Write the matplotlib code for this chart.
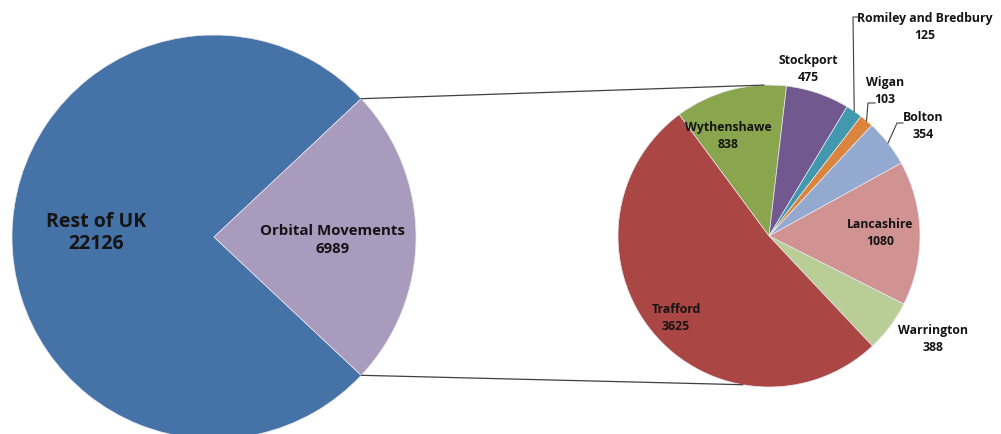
import numpy as np
import matplotlib
matplotlib.use("Agg")
import matplotlib.pyplot as plt

# main pie
main_labels = ["Rest of UK", "Orbital Movements"]
main_values = [22126, 6989]
main_colors = ["#4572A7", "#A99BBD"]

# breakdown of orbital movements (clockwise from Wythenshawe)
sub_labels = ["Wythenshawe", "Stockport", "Romiley and Bredbury", "Wigan",
              "Bolton", "Lancashire", "Warrington", "Trafford"]
sub_values = [838, 475, 125, 103, 354, 1080, 388, 3625]
sub_colors = ["#89A54E", "#71588F", "#4198AF", "#DB843D",
              "#93A9CF", "#D19392", "#B9CD96", "#AA4643"]

# layout (pixel units, y up)
W, H = 1001, 434
c1, r1 = (214, 197), 202
c2, r2 = (769, 198), 151
sub_start = 126.5
# label text positions for the small pie, and leader elbows
sub_text_pos = {
    "Wythenshawe": (728, 298), "Stockport": (808, 365),
    "Romiley and Bredbury": (925, 407), "Wigan": (885, 343),
    "Bolton": (923, 308), "Lancashire": (880, 201),
    "Warrington": (933, 95), "Trafford": (676, 116),
}
leaders = {"Romiley and Bredbury": (853, 417, 860), "Wigan": (868, 331, 875),
           "Bolton": (897, 311, 903)}

plt.rcParams['font.family'] = ['Open Sans', 'DejaVu Sans']
txt_color = "#141414"

fig = plt.figure(figsize=(W / 100, H / 100), dpi=100)
ax = fig.add_axes([0, 0, 1, 1])

orb_frac = main_values[1] / sum(main_values)
ax.pie(main_values, colors=main_colors, center=c1, radius=r1,
       startangle=orb_frac * 180, counterclock=True,
       wedgeprops=dict(edgecolor="#e8e8f0", linewidth=0.5))

wedges, _ = ax.pie(sub_values, colors=sub_colors, center=c2, radius=r2,
                   startangle=sub_start, counterclock=False,
                   wedgeprops=dict(edgecolor="#e8e8f0", linewidth=0.5))

# connector lines between the pies
a = np.deg2rad(orb_frac * 180)
p_top = (c1[0] + r1 * np.cos(a), c1[1] + r1 * np.sin(a))
p_bot = (c1[0] + r1 * np.cos(-a), c1[1] + r1 * np.sin(-a))
q_top = (c2[0] + r2 * np.cos(np.deg2rad(92)), c2[1] + r2 * np.sin(np.deg2rad(92)))
q_bot = (c2[0] + r2 * np.cos(np.deg2rad(-100)), c2[1] + r2 * np.sin(np.deg2rad(-100)))
ax.plot([p_top[0], q_top[0]], [p_top[1], q_top[1]], color="#404040", lw=0.9)
ax.plot([p_bot[0], q_bot[0]], [p_bot[1], q_bot[1]], color="#404040", lw=0.9)

# main labels
ax.text(96, 201, "%s\n%d" % (main_labels[0], main_values[0]), ha="center",
        va="center", fontsize=14, fontweight="bold", color=txt_color,
        linespacing=1.15)
ax.text(333, 194, "%s\n%d" % (main_labels[1], main_values[1]), ha="center",
        va="center", fontsize=10.8, fontweight="bold", color=txt_color,
        linespacing=1.3)

# small pie labels
for w, lab, val in zip(wedges, sub_labels, sub_values):
    x, y = sub_text_pos[lab]
    ax.text(x, y, "%s\n%d" % (lab, val), ha="center", va="center",
            fontsize=8.8, fontweight="bold", color=txt_color, linespacing=1.45)
    if lab in leaders:
        mid = np.deg2rad((w.theta1 + w.theta2) / 2)
        ex, ey = c2[0] + r2 * np.cos(mid), c2[1] + r2 * np.sin(mid)
        kx, ky, tx = leaders[lab]
        ax.plot([ex, kx, tx], [ey, ky, ky], color="#404040", lw=0.8)

ax.set_xlim(0, W)
ax.set_ylim(0, H)
ax.set_aspect("equal")
ax.axis("off")

fig.savefig("out.png", dpi=100, facecolor="white")
